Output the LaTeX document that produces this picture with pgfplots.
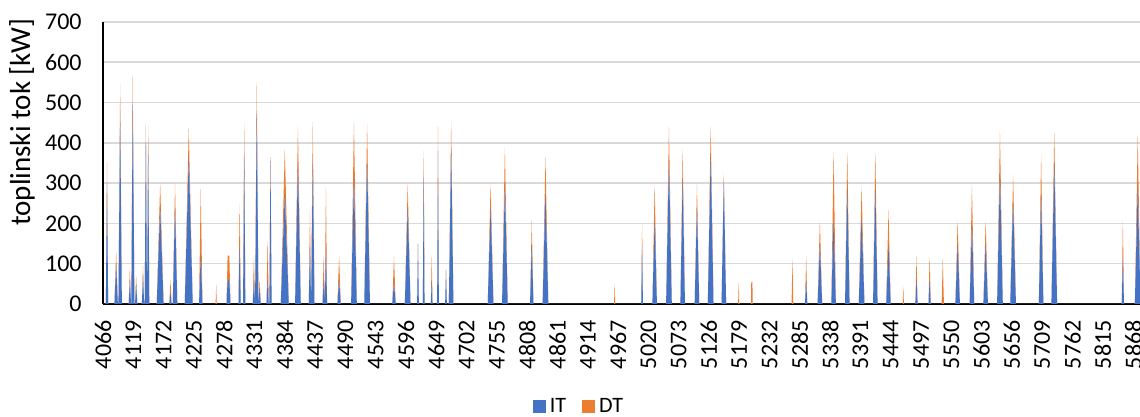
\documentclass[border=0pt]{standalone}
\usepackage{pgfplots}
\pgfplotsset{compat=1.18}
\usepackage{pgfplotstable}
\usepackage{fontspec}
\setmainfont{Carlito}
\usetikzlibrary{calc}

\definecolor{itblue}{HTML}{4472C4}
\definecolor{dtorange}{HTML}{ED7D31}
\definecolor{gridgray}{HTML}{D9D9D9}

% hour, IT, DT  (spikes)
\pgfplotstableread{
h IT DT
4066 0 0
4071 0 0
4073 300 50
4075 0 0
4086 0 0
4089 100 30
4092 0 0
4093 0 0
4096 480 65
4099 0 0
4111 0 0
4113 60 30
4115 0 0
4115.5 0 0
4118 500 70
4121 0 0
4122 0 0
4124 50 20
4126 0 0
4134 0 0
4136 70 25
4138 0 0
4139 0 0
4141 440 10
4143 0 0
4145 400 45
4147 0 0
4160 0 0
4166 240 60
4172 0 0
4182 0 0
4184 30 30
4186 0 0
4188 0 0
4192 240 60
4196 0 0
4209 0 0
4216 365 70
4223 0 0
4234 0 0
4237 125 160
4240 0 0
4263 0 0
4264 0 50
4265 0 0
4282 0 0
4284 60 60
4287 60 60
4289 0 0
4303 0 0
4305 150 100
4307 0 0
4311 0 0
4313 380 70
4315 0 0
4328 0 0
4330 60 60
4332 0 0
4335 480 70
4338 0 0
4340 40 20
4342 0 0
4352 0 0
4354 60 100
4356 0 0
4357 0 0
4359 355 10
4361 0 0
4377 0 0
4384 275 108
4391 0 0
4402 0 0
4407 350 90
4412 0 0
4426 0 0
4428 150 80
4430 0 0
4433 358 95
4436 0 0
4450 0 0
4452 60 60
4454 0 0
4456 142 150
4458 0 0
4476 0 0
4479 60 58
4482 0 0
4500 0 0
4505 316 137
4510 0 0
4523 0 0
4528 358 87
4533 0 0
4572 0 0
4575 55 63
4578 0 0
4594 0 0
4599 242 56
4604 0 0
4615.5 0 0
4617 150 0
4618.5 0 0
4625.5 0 0
4627 330 50
4628.5 0 0
4639.5 0 0
4641 60 60
4642.5 0 0
4650.5 0 0
4652 380 60
4653.5 0 0
4664.5 0 0
4666 85 0
4667.5 0 0
4671 0 0
4675 391 62
4679 0 0
4739 0 0
4744 242 56
4749 0 0
4764 0 0
4769 292 95
4774 0 0
4813 0 0
4816 150 57
4819 0 0
4835 0 0
4840 275 91
4845 0 0
4960 0 0
4961 0 51
4962 0 0
5007.5 0 0
5009 150 50
5010.5 0 0
5027 0 0
5031 209 87
5035 0 0
5051 0 0
5056 358 83
5061 0 0
5076 0 0
5080 316 67
5084 0 0
5101 0 0
5105 242 56
5109 0 0
5124 0 0
5129 374 67
5134 0 0
5148 0 0
5152 308 17
5156 0 0
5177 0 0
5178 0 55
5179 0 0
5199.5 0 0
5200 0 55
5202 0 55
5202.5 0 0
5270.5 0 0
5272 0 113
5273.5 0 0
5294 0 0
5296 60 58
5298 0 0
5316 0 0
5320 150 57
5324 0 0
5340 0 0
5344 209 170
5348 0 0
5364 0 0
5368 292 87
5372 0 0
5388 0 0
5393 217 75
5398 0 0
5413 0 0
5417 292 87
5421 0 0
5436 0 0
5440 147 87
5444 0 0
5465 0 0
5466 0 43
5467 0 0
5487 0 0
5489 60 58
5491 0 0
5510 0 0
5512 60 58
5514 0 0
5533 0 0
5534 0 55
5535 0 113
5536 0 55
5537 0 0
5557 0 0
5561 150 57
5565 0 0
5582 0 0
5586 200 96
5590 0 0
5606 0 0
5610 150 57
5614 0 0
5630 0 0
5635 325 103
5640 0 0
5653 0 0
5658 258 63
5663 0 0
5703 0 0
5707 275 95
5711 0 0
5725 0 0
5730 350 74
5735 0 0
5848 0 0
5850 118 91
5852 0 0
5871 0 0
5876 292 124
5881 0 0
}\heat

\begin{document}
\begin{tikzpicture}
\begin{axis}[
  name=ax,
  scale only axis,
  width=518.5pt, height=141pt,
  xmin=4066, xmax=5880,
  ymin=0, ymax=700,
  ytick={0,100,...,700},
  xtick={4066,4119,...,5868},
  axis x line*=bottom,
  axis y line*=left,
  axis line style={black, line width=0.8pt},
  major tick length=0pt,
  ymajorgrids,
  grid style={gridgray, line width=0.8pt},
  stack plots=y,
  /pgf/number format/assume math mode=true,
  /pgf/number format/set thousands separator={},
  ticklabel style={font=\fontsize{12}{12}\selectfont},
  xticklabel style={rotate=90, anchor=east, inner sep=0pt},
  yticklabel style={anchor=east, inner sep=0pt},
  xticklabel shift=8pt,
  yticklabel shift=10.5pt,
  ylabel={toplinski tok [kW]},
  ylabel style={at={(axis description cs:-0.0781,0.645)}, anchor=center,
    font=\fontsize{14.5}{14.5}\selectfont},
  legend columns=2,
  legend style={at={(axis description cs:0.46,-0.365)}, anchor=center,
    draw=none, font=\fontsize{11}{11}\selectfont,
    /tikz/every even column/.append style={column sep=6pt}},
  legend image code/.code={\fill[#1] (0pt,-3.25pt) rectangle (6.5pt,3.25pt);},
]
\addplot[draw=none, fill=itblue] table[x=h, y=IT] {\heat} \closedcycle;
\addplot[draw=none, fill=dtorange] table[x=h, y=DT] {\heat} \closedcycle;
\legend{IT, DT}
\end{axis}
\pgfresetboundingbox
\path ($(ax.south west)+(-51.5pt,-56.5pt)$) rectangle ($(ax.north east)+(0pt,11pt)$);
\end{tikzpicture}
\end{document}
